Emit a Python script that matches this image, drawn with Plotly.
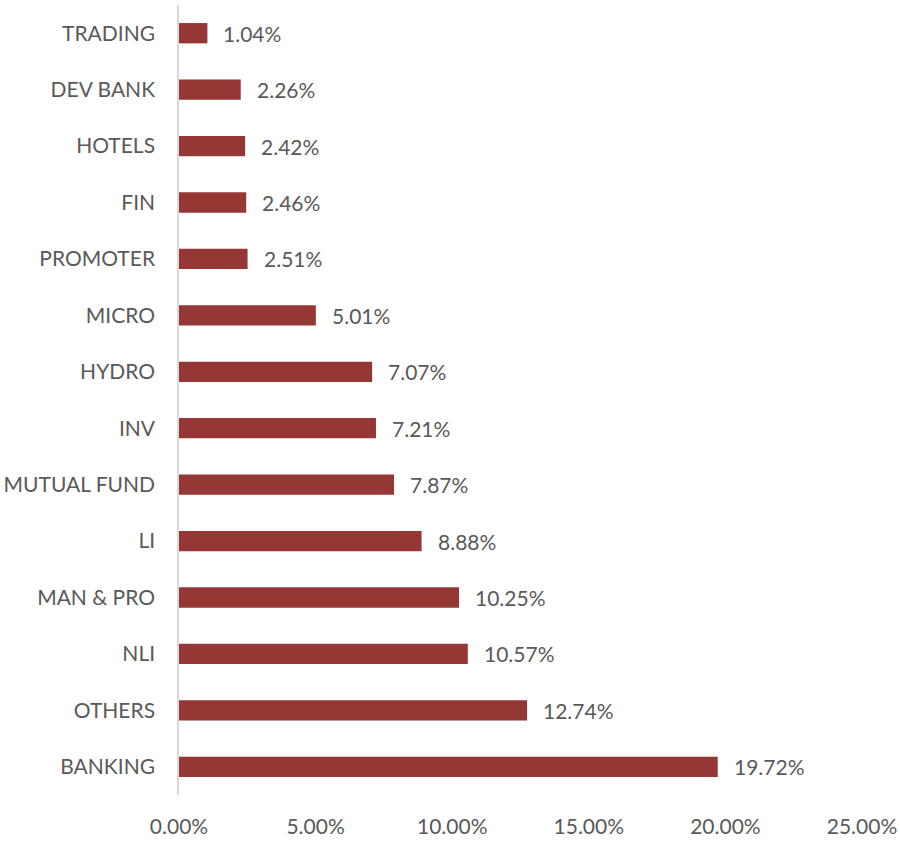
import plotly.graph_objects as go

categories = ["TRADING", "DEV BANK", "HOTELS", "FIN", "PROMOTER", "MICRO", "HYDRO", "INV",
              "MUTUAL FUND", "LI", "MAN & PRO", "NLI", "OTHERS", "BANKING"]
values = [1.04, 2.26, 2.42, 2.46, 2.51, 5.01, 7.07, 7.21, 7.87, 8.88, 10.25, 10.57, 12.74, 19.72]
tick_vals = [0, 5, 10, 15, 20, 25]
tick_text = ["0.00%", "5.00%", "10.00%", "15.00%", "20.00%", "25.00%"]

FONT = "Lato, Calibri, Carlito, sans-serif"
TXT = "#595959"
FS = 21

fig = go.Figure()
fig.add_trace(go.Bar(
    y=categories, x=values, orientation="h",
    marker=dict(color="#953735", line=dict(width=0)),
    width=0.36,
    hoverinfo="skip",
    cliponaxis=False,
))
for c, v in zip(categories, values):
    fig.add_annotation(x=v, y=c, text=f"{v:.2f}%", showarrow=False,
                       xanchor="left", yanchor="middle", xshift=14,
                       font=dict(family=FONT, size=FS, color=TXT))

fig.update_layout(
    width=900, height=841,
    margin=dict(l=179, r=38, t=5, b=46),
    paper_bgcolor="white", plot_bgcolor="white",
    showlegend=False,
)
fig.update_xaxes(range=[0, 25], tickvals=tick_vals, ticktext=tick_text,
                 showgrid=False, zeroline=False, showline=False,
                 tickfont=dict(family=FONT, size=FS, color=TXT),
                 ticks="", ticklabelstandoff=17, automargin=False)
fig.update_yaxes(categoryorder="array", categoryarray=categories,
                 autorange="reversed",
                 showgrid=False, zeroline=False, showline=True,
                 linecolor="#d9d9d9", linewidth=1.5,
                 tickfont=dict(family=FONT, size=FS, color=TXT),
                 ticks="", ticklabelstandoff=18, automargin=False)

fig.write_html("out.html", config={"displayModeBar": False},
               post_script="document.body.style.margin='0';document.body.style.overflow='hidden';")
